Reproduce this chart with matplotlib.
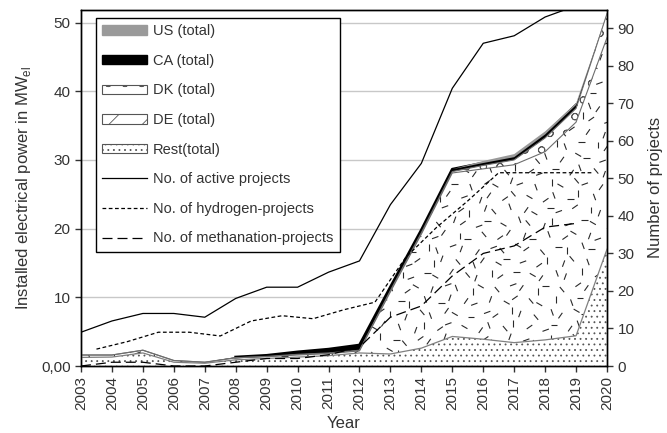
import numpy as np
import matplotlib
matplotlib.use("Agg")
import matplotlib.pyplot as plt
from matplotlib.patches import Patch
from matplotlib.lines import Line2D
from matplotlib.collections import LineCollection
from matplotlib.ticker import FuncFormatter, MultipleLocator

plt.rcParams.update({
    "font.family": ["Liberation Sans", "DejaVu Sans"],
    "font.size": 11,
    "hatch.linewidth": 0.6,
    "text.color": "#333333",
    "axes.labelcolor": "#333333",
    "xtick.color": "#333333",
    "ytick.color": "#333333",
})

# ---------------- data ----------------
years = np.arange(2003, 2021)

# installed power per layer (MW_el), stacked bottom -> top
rest_mw = [1.25, 1.3, 1.9, 0.55, 0.4, 0.9, 1.1, 1.3, 1.5, 1.9, 1.75, 2.6, 4.3, 3.9, 3.4, 3.8, 4.4, 17.0]
de_mw   = [0.35, 0.3, 0.4, 0.25, 0.15, 0.3, 0.25, 0.3, 0.3, 0.3, 9.05, 16.6, 23.8, 24.8, 25.9, 27.4, 31.1, 30.8]
dk_mw   = [0, 0, 0, 0, 0, 0, 0.05, 0.1, 0.1, 0.1, 0.2, 0.2, 0.2, 0.5, 0.7, 2.0, 2.0, 3.5]
ca_mw   = [0, 0, 0, 0, 0, 0.1, 0.15, 0.35, 0.55, 0.75, 0.5, 0.4, 0.35, 0.35, 0.4, 0.5, 0.5, 0]
us_mw   = [0, 0, 0, 0, 0, 0, 0, 0, 0, 0, 0, 0, 0, 0.3, 0.45, 0.45, 0.25, 0]

# number of projects
active_n      = [9, 12, 14, 14, 13, 18, 21, 21, 25, 28, 43, 54, 74, 86, 88, 93, 96, 100]
hydro_years   = np.arange(2003, 2020) + 0.5     # drawn between the year ticks
hydrogen_n    = [4.5, 6.5, 9, 9, 8, 12, 13.4, 12.6, 15, 17, 29, 37, 44, 51.5, 51.5, 51.5, 51.5]
meth_years    = np.arange(2003, 2020)
methanation_n = [0, 1, 1, 0, 0, 1, 2, 2, 3, 5, 13, 16, 24, 30, 32, 37, 38]

# ---------------- figure ----------------
W, H = 667, 433
fig = plt.figure(figsize=(W / 100, H / 100), dpi=100)
L, R, B, T = 81, 607, 366, 9.5
ax = fig.add_axes([L / W, (H - B) / H, (R - L) / W, (B - T) / H])
ax2 = ax.twinx()

layers = np.vstack([rest_mw, de_mw, dk_mw, ca_mw, us_mw])
tops = np.cumsum(layers, axis=0)
bots = np.vstack([np.zeros(len(years)), tops[:-1]])

gray_edge = "#6e6e6e"
ax.fill_between(years, bots[0], tops[0], facecolor="white", edgecolor="#555555",
                hatch="...", linewidth=0, zorder=2)
de_poly = ax.fill_between(years, bots[1], tops[1], facecolor="white", linewidth=0, zorder=2)
ax.fill_between(years, bots[2], tops[2], facecolor="white", edgecolor="#555555",
                hatch="o", linewidth=0, zorder=2)
ax.fill_between(years, bots[3], tops[3], facecolor="black", linewidth=0, zorder=2)

# scattered-dash texture for the DE layer (clipped to its area)
ax_w, ax_h = R - L, B - T
angles = np.deg2rad([0, 35, 70, 110, 150, 20, 90, 130, 55])
segs = []
step = 13
nx, ny = int(ax_w / step) + 2, int(ax_h / step) + 2
for j in range(ny):
    for i in range(nx):
        px = (i + 0.5 * (j % 2)) * step + ((i * 7 + j * 3) % 5 - 2) * 1.6
        py = j * step + ((i * 3 + j * 5) % 5 - 2) * 1.6
        a = angles[(i * 5 + j * 3 + (i * j) % 4) % len(angles)]
        hl = 3.4
        dx, dy = hl * np.cos(a), hl * np.sin(a)
        segs.append([((px - dx) / ax_w, (py - dy) / ax_h), ((px + dx) / ax_w, (py + dy) / ax_h)])
lc = LineCollection(segs, colors="#2a2a2a", linewidths=0.8, transform=ax.transAxes, zorder=2.5)
lc.set_clip_path(de_poly.get_paths()[0], ax.transData)
ax.add_collection(lc)

# layer boundaries
ca = np.array(ca_mw)
ca_line = np.ma.masked_where(ca == 0, tops[3])
ax.plot(years, ca_line, color="black", lw=2.0, zorder=3, solid_joinstyle="round")
ax.fill_between(years, bots[4], tops[4], facecolor="#9a9a9a", linewidth=0, zorder=3.2)
ax.plot(years, tops[0], color="#808080", lw=0.9, zorder=3)
ax.plot(years, tops[1], color=gray_edge, lw=0.8, zorder=3)
ax.plot(years, tops[2], color=gray_edge, lw=0.8, zorder=3)

# grid + left axis
ax.set_xlim(2003, 2020)
ax.set_ylim(0, 51.9)
ax.set_yticks([0, 10, 20, 30, 40, 50])
ax.yaxis.set_major_formatter(FuncFormatter(lambda v, p: "0,00" if v == 0 else f"{v:.0f}"))
for g in [10, 20, 30, 40, 50]:
    ax.axhline(g, color="#c8c8c8", lw=1.0, zorder=1)
ax.set_xticks(years)
ax.set_xticklabels([str(y) for y in years], rotation=90)
ax.tick_params(direction="out", length=4, width=1, labelsize=11)
ax.set_ylabel(r"Installed electrical power in MW$_\mathregular{el}$", fontsize=12, labelpad=6)
ax.set_xlabel("Year", fontsize=12, labelpad=4)

# right axis: projects
ax2.plot(years, active_n, color="black", lw=0.9, zorder=4)
ax2.plot(hydro_years, hydrogen_n, color="black", lw=0.9, dashes=(3, 2), zorder=4)
ax2.plot(meth_years, methanation_n, color="black", lw=0.9, dashes=(8, 4), zorder=4)
ax2.set_ylim(0, 95)
ax2.yaxis.set_major_locator(MultipleLocator(10))
ax2.tick_params(direction="out", length=4, width=1, labelsize=11)
ax2.set_ylabel("Number of projects", fontsize=12, labelpad=10)

for a in (ax, ax2):
    for s in a.spines.values():
        s.set_color("black")
        s.set_linewidth(1.0)

handles = [
    Patch(facecolor="#9a9a9a", edgecolor="#9a9a9a", label="US (total)"),
    Patch(facecolor="black", edgecolor="black", label="CA (total)"),
    Patch(facecolor="white", edgecolor="#555555", hatch="o", lw=0.8, label="DK (total)"),
    Patch(facecolor="white", edgecolor="#555555", hatch="/", lw=0.8, label="DE (total)"),
    Patch(facecolor="white", edgecolor="#555555", hatch="...", lw=0.8, label="Rest(total)"),
    Line2D([], [], color="black", lw=0.9, label="No. of active projects"),
    Line2D([], [], color="black", lw=0.9, dashes=(3, 2), label="No. of hydrogen-projects"),
    Line2D([], [], color="black", lw=0.9, dashes=(8, 4), label="No. of methanation-projects"),
]
leg = ax2.legend(handles=handles, loc="upper left", bbox_to_anchor=(0.028, 0.977),
                 borderaxespad=0, fontsize=10.5, frameon=True, fancybox=False,
                 framealpha=1, edgecolor="black", handlelength=3.1, handleheight=0.6,
                 labelspacing=1.07, handletextpad=0.35, borderpad=0.45)
leg.get_frame().set_linewidth(1.0)
leg.set_zorder(10)

fig.savefig("out.png", dpi=100)
